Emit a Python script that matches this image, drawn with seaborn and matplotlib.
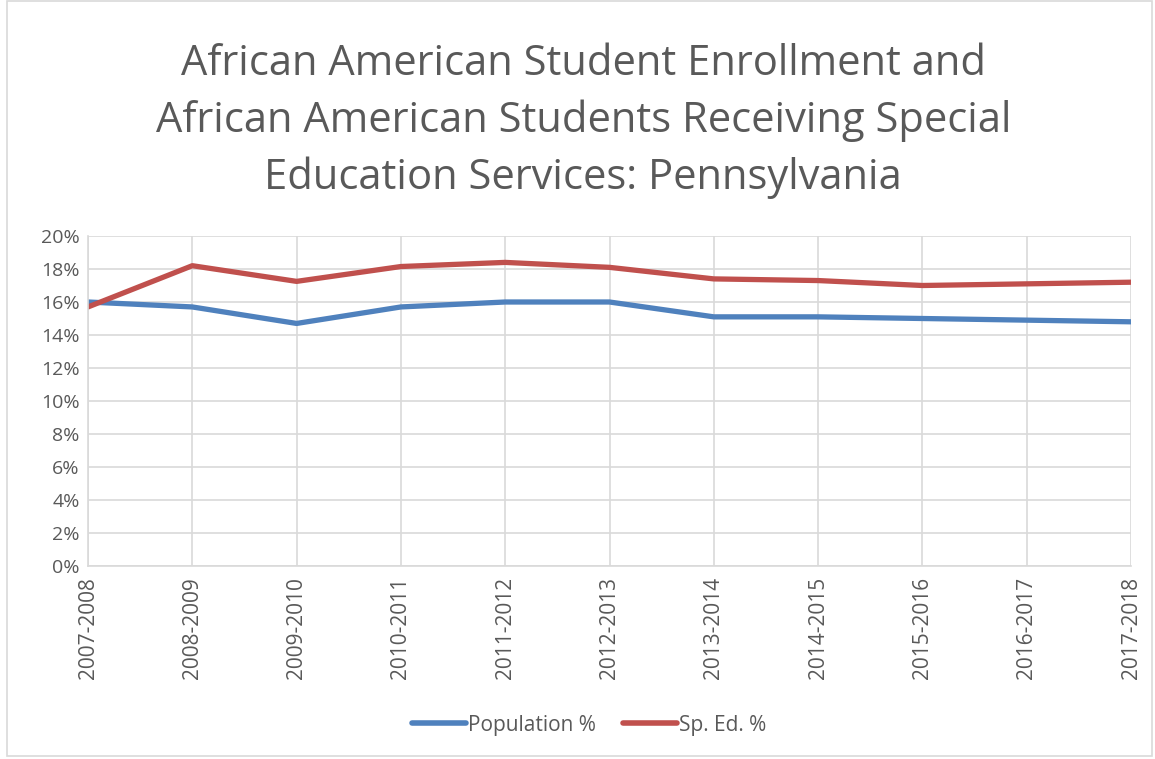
import matplotlib
matplotlib.use("Agg")
import matplotlib.pyplot as plt
import seaborn as sns
import pandas as pd
from matplotlib.ticker import PercentFormatter
from matplotlib.patches import Rectangle

years = ["2007-2008", "2008-2009", "2009-2010", "2010-2011", "2011-2012",
         "2012-2013", "2013-2014", "2014-2015", "2015-2016", "2016-2017", "2017-2018"]
population_pct = [16.0, 15.7, 14.7, 15.7, 16.0, 16.0, 15.1, 15.1, 15.0, 14.9, 14.8]
sped_pct = [15.7, 18.2, 17.25, 18.15, 18.4, 18.1, 17.4, 17.3, 17.0, 17.1, 17.2]
series_names = ["Population %", "Sp. Ed. %"]
colors = ["#4F81BD", "#C0504D"]
title = ("African American Student Enrollment and\n"
         "African American Students Receiving Special\n"
         "Education Services: Pennsylvania")

sns.set_theme(style="white")
plt.rcParams['font.family'] = ['Open Sans', 'DejaVu Sans']

df = pd.DataFrame({
    "Year": years * 2,
    "Value": population_pct + sped_pct,
    "Series": [series_names[0]] * len(years) + [series_names[1]] * len(years),
})
df["x"] = list(range(len(years))) * 2

fig = plt.figure(figsize=(11.55, 7.59), dpi=100)
ax = fig.add_axes([88/1155, 1-566/759, (1131-88)/1155, (566-236)/759])

sns.lineplot(data=df, x="x", y="Value", hue="Series", palette=colors,
             linewidth=3.8, ax=ax, legend=True, solid_capstyle="round")

grey = "#595959"
ax.set_xlim(0, len(years) - 1)
ax.set_ylim(0, 20)
ax.set_yticks(range(0, 21, 2))
ax.yaxis.set_major_formatter(PercentFormatter(decimals=0))
ax.set_xticks(range(len(years)))
ax.set_xticklabels(years, rotation=90)
ax.tick_params(axis="y", labelsize=14, colors=grey, length=0, pad=6)
ax.tick_params(axis="x", labelsize=15, colors=grey, length=0, pad=8)
ax.set_xlabel("")
ax.set_ylabel("")
ax.grid(True, color="#D9D9D9", linewidth=1.2)
for s in ["top", "right"]:
    ax.spines[s].set_visible(False)
for s in ["left", "bottom"]:
    ax.spines[s].set_color("#D9D9D9")
    ax.spines[s].set_linewidth(1.2)

fig.text(0.505, 1-121/759, title, ha="center", va="center", fontsize=30,
         color=grey, linespacing=1.45)

handles, labels = ax.get_legend_handles_labels()
ax.get_legend().remove()
leg = fig.legend(handles, labels, loc="center", bbox_to_anchor=(0.51, 1-725/759),
                 ncol=2, frameon=False, fontsize=15, handlelength=2.6,
                 columnspacing=1.3, handletextpad=0.1)
for t in leg.get_texts():
    t.set_color(grey)
for l in leg.get_lines():
    l.set_linewidth(4)
    l.set_solid_capstyle("round")

fig.patches.append(Rectangle((7/1155, 1-756/759), 1145/1155, 755/759,
                             transform=fig.transFigure, fill=False,
                             edgecolor="#D9D9D9", linewidth=1.2))

fig.savefig("out.png", dpi=100, facecolor="white")
